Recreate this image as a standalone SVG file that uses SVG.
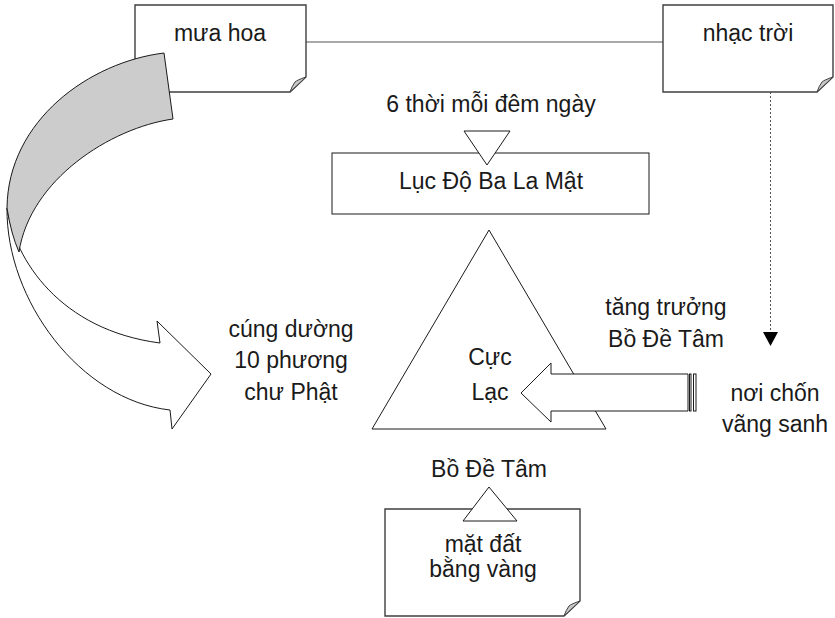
<svg xmlns="http://www.w3.org/2000/svg" width="835" height="618" viewBox="0 0 835 618">
<style>
text{font-family:"Liberation Sans",Arial,sans-serif;font-size:23px;fill:#1a1a1a;text-anchor:middle}
.note{fill:#fff;stroke:#3f3f3f;stroke-width:1.4}
.flap{fill:#c8c8c8;stroke:#3f3f3f;stroke-width:1}
.shape{fill:#fff;stroke:#1a1a1a;stroke-width:1}
.back{fill:#cccccc;stroke:#1a1a1a;stroke-width:1}
.conn{fill:none;stroke:#555;stroke-width:1.2}
.dot{fill:none;stroke:#555;stroke-width:1;stroke-dasharray:2,2}
</style>
<defs>
<marker id="ah" viewBox="0 0 14 15" refX="0" refY="7.5" markerWidth="14" markerHeight="15" markerUnits="userSpaceOnUse" orient="auto">
<path d="M0,0 L14,7.5 L0,15 Z" fill="#000"/>
</marker>
</defs>
<rect width="835" height="618" fill="#fff"/>

<g id="connectors">
<line class="conn" x1="306" y1="42" x2="663" y2="42"/>
<line class="dot" x1="770.5" y1="92" x2="770.5" y2="332" marker-end="url(#ah)"/>
</g>

<g id="note-mua-hoa">
<path class="note" d="M135,5 H306 V77 L290,92 H135 Z"/>
<path class="flap" d="M306,77 Q297,80 295,82 Q292,86 290,92 Z"/>
<text x="220" y="41">mưa hoa</text>
</g>

<g id="note-nhac-troi">
<path class="note" d="M663,5 H833 V77 L817,92 H663 Z"/>
<path class="flap" d="M833,77 Q824,80 822,82 Q819,86 817,92 Z"/>
<text x="748" y="41">nhạc trời</text>
</g>

<g id="curved-arrow">
<path class="shape" d="M7,208 C6,300 80,400 170,410 L172,429 L211,374 L157,321 L160,343 C60,330 15,260 7,208 Z"/>
<path class="back" d="M164,53 C90,62 8,120 7,208 Q11,234 19,252 C30,180 110,128 173,119 Z"/>
</g>

<g id="label-cung-duong">
<text x="291" y="337">cúng dường</text>
<text x="291" y="368">10 phương</text>
<text x="291" y="400">chư Phật</text>
</g>

<g id="box-luc-do">
<rect class="shape" x="332" y="153" width="317" height="61"/>
<polygon class="shape" points="464,131 510,131 487,165"/>
<text x="491" y="189">Lục Độ Ba La Mật</text>
</g>

<g id="label-6-thoi">
<text x="491" y="112">6 thời mỗi đêm ngày</text>
</g>

<g id="triangle-cuc-lac">
<polygon class="shape" points="489,230 606,429 372,429"/>
</g>

<g id="striped-arrow">
<polygon class="shape" points="688,374 551,374 551,363 521,393 551,422 551,411 688,411"/>
<rect class="shape" x="689.5" y="374" width="1.5" height="37"/>
<rect class="shape" x="693.5" y="374" width="2.5" height="37"/>
</g>

<g id="label-cuc-lac">
<text x="490" y="365">Cực</text>
<text x="490" y="400">Lạc</text>
</g>

<g id="label-tang-truong">
<text x="666" y="315">tăng trưởng</text>
<text x="666" y="347">Bồ Đề Tâm</text>
</g>

<g id="label-noi-chon">
<text x="775" y="401">nơi chốn</text>
<text x="775" y="432">vãng sanh</text>
</g>

<g id="label-bo-de-tam">
<text x="489" y="477">Bồ Đề Tâm</text>
</g>

<g id="note-mat-dat">
<path class="note" d="M385,509 H580 V601 L564,616 H385 Z"/>
<path class="flap" d="M580,601 Q571,604 569,606 Q566,610 564,616 Z"/>
<polygon class="shape" points="463,521 517,521 489,487"/>
<text x="483" y="552">mặt đất</text>
<text x="483" y="577">bằng vàng</text>
</g>
</svg>
